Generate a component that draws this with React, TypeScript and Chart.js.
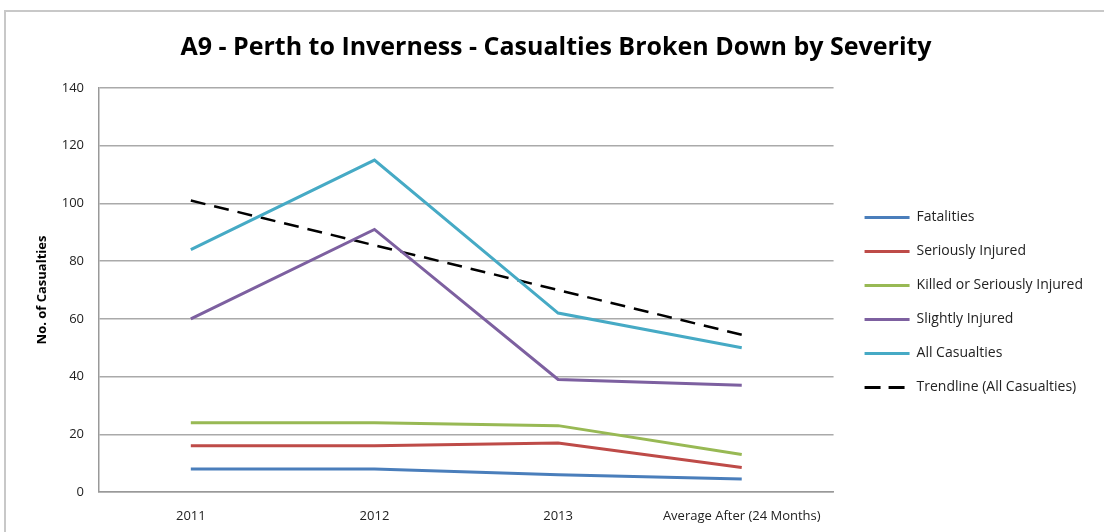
import React, { useEffect, useRef } from "react";
import { Chart, registerables } from "chart.js";

Chart.register(...registerables);

const categories = ["2011", "2012", "2013", "Average After (24 Months)"];
const fatalities = [8, 8, 6, 4.5];
const seriouslyInjured = [16, 16, 17, 8.5];
const killedOrSeriouslyInjured = [24, 24, 23, 13];
const slightlyInjured = [60, 91, 39, 37];
const allCasualties = [84, 115, 62, 50];
const trendline = [101, 85.5, 70, 54.5];

const seriesLabels = [
  "Fatalities",
  "Seriously Injured",
  "Killed or Seriously Injured",
  "Slightly Injured",
  "All Casualties",
  "Trendline (All Casualties)",
];
const seriesColors = ["#4a7ebb", "#be4b48", "#98b954", "#7d60a0", "#46aac5", "#000000"];

const yMin = 0;
const yMax = 140;
const yStep = 20;

const FONT = '"Open Sans", Lato, "DejaVu Sans", sans-serif';

const legendShift = {
  id: "legendShift",
  afterLayout(chart: any) {
    const l = chart.legend;
    if (l) {
      l.left += 11;
      l.right += 11;
      l.top += 20;
      l.bottom += 20;
    }
  },
};

export default function App() {
  const ref = useRef<HTMLCanvasElement | null>(null);

  useEffect(() => {
    if (!ref.current) return;
    const series = [
      fatalities,
      seriouslyInjured,
      killedOrSeriouslyInjured,
      slightlyInjured,
      allCasualties,
      trendline,
    ];
    const datasets = series.map((data, i) => ({
      label: seriesLabels[i],
      data,
      borderColor: seriesColors[i],
      backgroundColor: seriesColors[i],
      borderWidth: i === 5 ? 2.5 : 3,
      borderDash: i === 5 ? [15, 9] : [],
      pointRadius: 0,
      pointHoverRadius: 0,
      tension: 0,
      fill: false,
      pointStyle: "line",
    }));

    const chart = new Chart(ref.current, {
      type: "line",
      data: { labels: categories, datasets },
      plugins: [legendShift],
      options: {
        animation: false,
        responsive: false,
        layout: { padding: { left: 30, top: 33, right: 22, bottom: 0 } },
        plugins: {
          title: {
            display: true,
            text: "A9 - Perth to Inverness - Casualties Broken Down by Severity",
            color: "#000",
            font: { family: FONT, size: 25, weight: "bold", lineHeight: 1.2 },
            padding: { top: 0, bottom: 25 },
          },
          legend: {
            display: true,
            position: "right",
            align: "center",
            labels: {
              usePointStyle: true,
              pointStyleWidth: 45,
              padding: 20,
              color: "#222",
              font: { family: FONT, size: 14 },
              generateLabels: (c: any) => {
                const items = (Chart as any).defaults.plugins.legend.labels.generateLabels(c);
                return items.map((it: any) => {
                  const ds: any = c.data.datasets[it.datasetIndex];
                  return {
                    ...it,
                    pointStyle: "line",
                    lineDash: ds.borderDash && ds.borderDash.length ? [16, 8] : [],
                    lineWidth: 3,
                    strokeStyle: ds.borderColor,
                    fillStyle: ds.borderColor,
                  };
                });
              },
            },
          },
          tooltip: { enabled: false },
        },
        scales: {
          x: {
            offset: true,
            grid: { display: false, drawTicks: false },
            border: { display: true, color: "#999", width: 1.5 },
            ticks: {
              color: "#222",
              padding: 16,
              maxRotation: 0,
              autoSkip: false,
              font: { family: FONT, size: 13 },
            },
            afterFit: (scale: any) => {
              scale.height = 40;
            },
          },
          y: {
            min: yMin,
            max: yMax,
            ticks: {
              stepSize: yStep,
              color: "#222",
              padding: 15,
              font: { family: FONT, size: 13 },
            },
            grid: { color: "#aaa", lineWidth: 1.5, drawTicks: false },
            border: { display: true, color: "#999", width: 1.5 },
            title: {
              display: true,
              text: "No. of Casualties",
              color: "#000",
              font: { family: FONT, size: 13, weight: "bold" },
              padding: { top: 4, bottom: 0 },
            },
            afterFit: (scale: any) => {
              scale.width = 69;
            },
          },
        },
      },
    });
    return () => chart.destroy();
  }, []);

  return (
    <div style={{ position: "fixed", left: 0, top: 0, width: 1104, height: 532, overflow: "hidden", background: "#fff" }}>
      <div
        style={{
          position: "absolute",
          left: 4,
          top: 10,
          width: 1140,
          height: 600,
          border: "2px solid #c8c8c8",
          boxSizing: "border-box",
        }}
      />
      <canvas ref={ref} width={1104} height={532} style={{ position: "absolute", left: 0, top: 0 }} />
    </div>
  );
}
